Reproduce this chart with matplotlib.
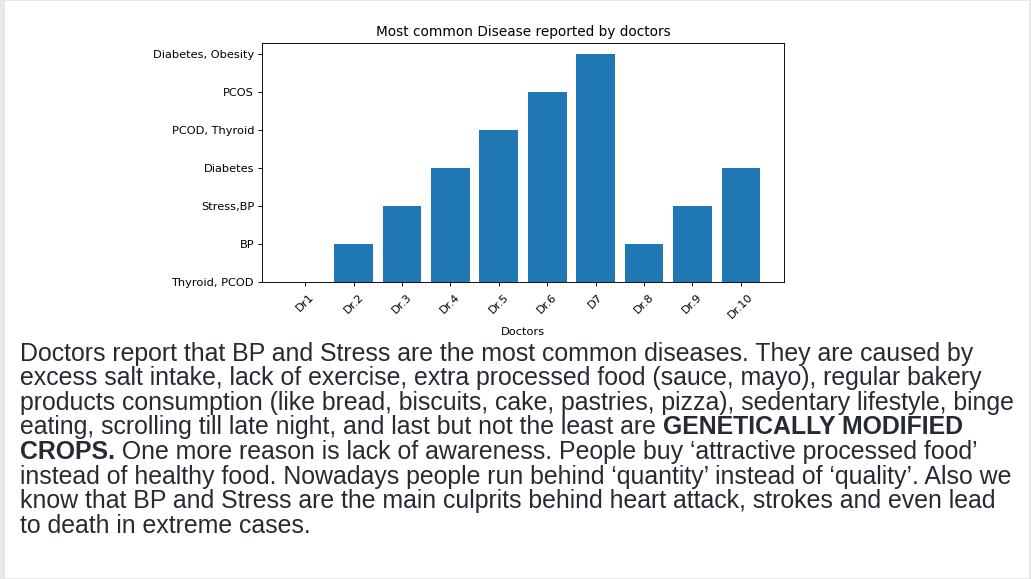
import matplotlib
matplotlib.use("Agg")
import matplotlib.pyplot as plt
from matplotlib.patches import Rectangle

# ---- data ----
doctors = ["Dr1", "Dr.2", "Dr.3", "Dr.4", "Dr.5", "Dr.6", "D7", "Dr.8", "Dr.9", "Dr.10"]
diseases = ["Thyroid, PCOD", "BP", "Stress,BP", "Diabetes", "PCOD, Thyroid", "PCOS", "Diabetes, Obesity"]
reported = ["Thyroid, PCOD", "BP", "Stress,BP", "Diabetes", "PCOD, Thyroid", "PCOS",
            "Diabetes, Obesity", "BP", "Stress,BP", "Diabetes"]
title = "Most common Disease reported by doctors"
xlabel = "Doctors"

# paragraph: list of lines, each a list of (text, bold) segments
paragraph = [
    [("Doctors report that BP and Stress are the most common diseases. They are caused by", False)],
    [("excess salt intake, lack of exercise, extra processed food (sauce, mayo), regular bakery", False)],
    [("products consumption (like bread, biscuits, cake, pastries, pizza), sedentary lifestyle, binge", False)],
    [("eating, scrolling till late night, and last but not the least are ", False), ("GENETICALLY MODIFIED", True)],
    [("CROPS.", True), (" One more reason is lack of awareness. People buy \u2018attractive processed food\u2019", False)],
    [("instead of healthy food. Nowadays people run behind \u2018quantity\u2019 instead of \u2018quality\u2019. Also we", False)],
    [("know that BP and Stress are the main culprits behind heart attack, strokes and even lead", False)],
    [("to death in extreme cases.", False)],
]

W, H = 1031, 579
fig = plt.figure(figsize=(W / 100, H / 100), dpi=100)
fig.patch.set_facecolor("#e8e8e8")
fig.patches.append(Rectangle((5 / W, 1 - 578 / H), (1029 - 5) / W, (578 - 1) / H,
                             transform=fig.transFigure, facecolor="white",
                             edgecolor="none", zorder=-10))

sc = 0.82  # chart image was scaled down
ax = fig.add_axes([262 / W, 1 - 282 / H, (784 - 262) / W, (282 - 43) / H])
vals = [diseases.index(r) for r in reported]
ax.bar(doctors, vals, color="#1f77b4", width=0.8)
ax.set_yticks(range(len(diseases)))
ax.set_yticklabels(diseases)
ax.set_ylim(0, (len(diseases) - 1) * 1.05)
ax.tick_params(labelsize=10 * sc, length=3.5 * sc, width=0.8 * sc, pad=3.5 * sc)
ax.tick_params(axis="x", pad=3.5 * sc + 1.5)
for lab in ax.get_xticklabels():
    lab.set_rotation(45)
    lab.set_ha("center")
ax.set_title(title, fontsize=12 * sc, pad=6 * sc)
ax.set_xlabel(xlabel, fontsize=10 * sc, labelpad=4 * sc + 1)
for s in ax.spines.values():
    s.set_linewidth(0.8 * sc)

# ---- paragraph ----
color = "#262b33"
tsize = 17.9
x0 = 20
y0 = 360.5
dy = 24.65
fig.canvas.draw()
renderer = fig.canvas.get_renderer()
for i, line in enumerate(paragraph):
    x = x0
    ybase = 1 - (y0 + i * dy) / H
    for seg, bold in line:
        t = fig.text(x / W, ybase, seg, fontsize=tsize,
                     family=["Liberation Sans", "DejaVu Sans"],
                     fontweight="bold" if bold else "normal", color=color,
                     va="baseline", ha="left")
        bb = t.get_window_extent(renderer=renderer)
        x = bb.x1

fig.savefig("out.png", dpi=100, facecolor=fig.get_facecolor())
